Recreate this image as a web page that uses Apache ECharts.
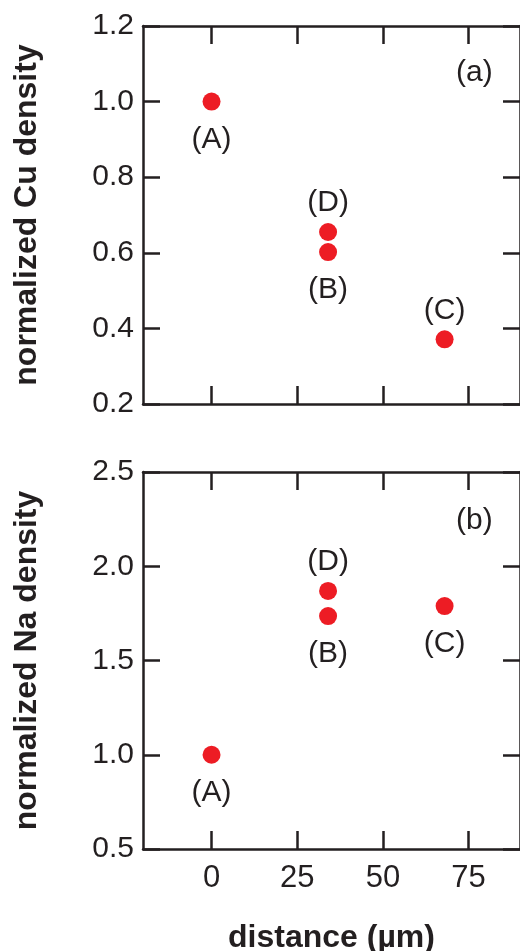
<!DOCTYPE html>
<html><head><meta charset="utf-8">
<script src="https://cdn.jsdelivr.net/npm/echarts@6/dist/echarts.min.js"></script>
<style>html,body{margin:0;padding:0;background:#fff}#c{width:520px;height:951px}</style>
</head><body><div id="c"></div>
<script>
// ---- data ----
const pointNames = ['(A)', '(B)', '(C)', '(D)'];
const distance = [0, 34, 68, 34];
const cuDensity = [1.0, 0.602, 0.371, 0.655];
const naDensity = [1.0, 1.736, 1.789, 1.869];
const xTickValues = [0, 25, 50, 75];
const panelTags = ['(a)', '(b)'];
const cuAxisTitle = 'normalized Cu density';
const naAxisTitle = 'normalized Na density';
const xAxisTitle = 'distance (µm)';

// ---- styles ----
const cuLabelSide = ['bottom', 'bottom', 'top', 'top'];
const naLabelSide = ['bottom', 'bottom', 'bottom', 'top'];
const INK = '#231f20';
const RED = '#ed1c24';
const FONT = "'Liberation Sans', Arial, Helvetica, sans-serif";

const chart = echarts.init(document.getElementById('c'), null, {renderer: 'canvas'});

function xAxisDef(gridIndex, position, showLabels, name) {
  return {
    type: 'value', gridIndex: gridIndex, position: position,
    min: -20, max: 90,
    axisLine: {show: true, onZero: false, lineStyle: {color: INK, width: 2.5}},
    axisTick: {show: true, inside: true, length: 18, lineStyle: {color: INK, width: 2.5}, customValues: xTickValues},
    axisLabel: {show: showLabels, customValues: xTickValues, color: INK, fontSize: 31, fontFamily: FONT, margin: 14},
    splitLine: {show: false},
    name: name || '', nameLocation: 'middle', nameGap: 73,
    nameTextStyle: {color: INK, fontSize: 32, fontWeight: 'bold', fontFamily: FONT}
  };
}
function yAxisDef(gridIndex, position, min, max, interval, showLabels, name) {
  return {
    type: 'value', gridIndex: gridIndex, position: position,
    min: min, max: max, interval: interval,
    axisLine: {show: true, onZero: false, lineStyle: {color: INK, width: 2.5}},
    axisTick: {show: true, inside: true, length: 17, lineStyle: {color: INK, width: 2.5}},
    axisLabel: {show: showLabels, color: INK, fontSize: 30, fontFamily: FONT, margin: 9,
      formatter: v => v.toFixed(1)},
    splitLine: {show: false},
    name: name || '', nameLocation: 'middle', nameGap: 100,
    nameTextStyle: {color: INK, fontSize: 32, fontWeight: 'bold', fontFamily: FONT}
  };
}
function pts(ys, sides) {
  return distance.map((x, i) => ({
    value: [x, ys[i]],
    label: {position: sides[i], distance: sides[i] === 'top' ? 5 : 14}
  }));
}
function scatter(xi, yi, ys, sides) {
  return {
    type: 'scatter', xAxisIndex: xi, yAxisIndex: yi,
    symbol: 'circle', symbolSize: 18,
    itemStyle: {color: RED, opacity: 1},
    label: {show: true, color: INK, fontSize: 30, fontFamily: FONT,
      formatter: p => pointNames[p.dataIndex]},
    data: pts(ys, sides)
  };
}

chart.setOption({
  animation: false,
  backgroundColor: '#fff',
  grid: [
    {left: 143, top: 26, width: 377, height: 378, outerBoundsMode: 'none', containLabel: false},
    {left: 143, top: 472, width: 377, height: 377, outerBoundsMode: 'none', containLabel: false}
  ],
  xAxis: [
    xAxisDef(0, 'bottom', false),
    xAxisDef(1, 'bottom', true, xAxisTitle),
    xAxisDef(0, 'top', false),
    xAxisDef(1, 'top', false)
  ],
  yAxis: [
    yAxisDef(0, 'left', 0.2, 1.2, 0.2, true, cuAxisTitle),
    yAxisDef(1, 'left', 0.5, 2.5, 0.5, true, naAxisTitle),
    yAxisDef(0, 'right', 0.2, 1.2, 0.2, false),
    yAxisDef(1, 'right', 0.5, 2.5, 0.5, false)
  ],
  series: [
    scatter(0, 0, cuDensity, cuLabelSide),
    scatter(1, 1, naDensity, naLabelSide)
  ],
  graphic: [
    {type: 'text', left: 456, top: 58, style: {text: panelTags[0], fill: INK, font: '30px ' + FONT}},
    {type: 'text', left: 456, top: 506, style: {text: panelTags[1], fill: INK, font: '30px ' + FONT}}
  ]
});
</script></body></html>
